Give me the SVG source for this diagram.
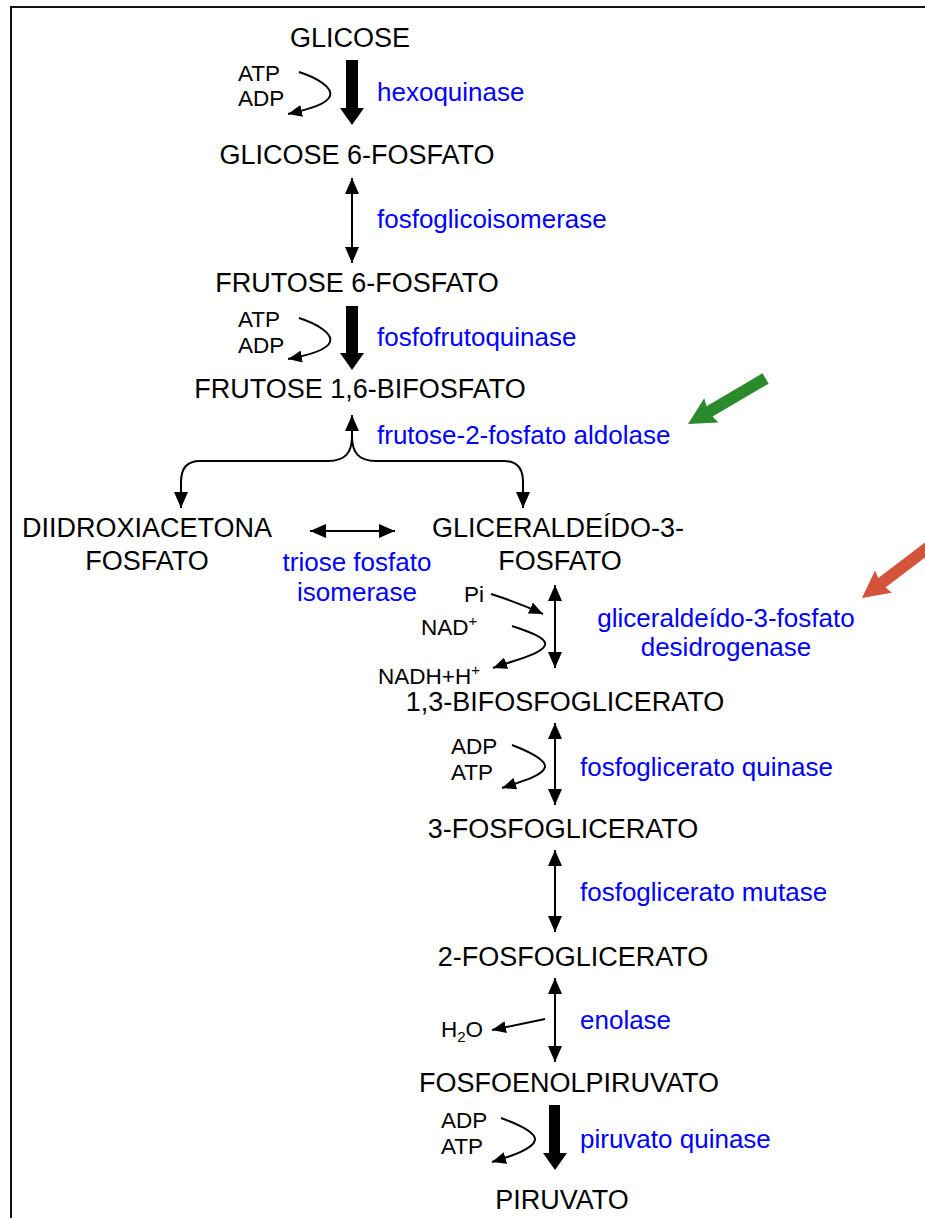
<svg xmlns="http://www.w3.org/2000/svg" width="925" height="1218" viewBox="0 0 925 1218">
<style>
text{font-family:"Liberation Sans",Arial,sans-serif;}
.m{font-size:27px;fill:#000;text-anchor:middle;}
.e{font-size:26px;fill:#0000ff;}
.ec{font-size:26px;fill:#0000ff;text-anchor:middle;}
.s{font-size:22.5px;fill:#000;}
.ln{fill:none;stroke:#000;stroke-width:2;}
</style>
<defs>
<marker id="ah" viewBox="0 0 16 14" refX="16" refY="7" markerWidth="16" markerHeight="14" markerUnits="userSpaceOnUse" orient="auto-start-reverse"><path d="M0,0 L16,7 L0,14 z" fill="#000"/></marker>
<marker id="ahs" viewBox="0 0 14 12" refX="14" refY="6" markerWidth="14" markerHeight="12" markerUnits="userSpaceOnUse" orient="auto"><path d="M0,0 L14,6 L0,12 z" fill="#000"/></marker>
</defs>
<rect x="11" y="7" width="1000" height="1300" fill="none" stroke="#111" stroke-width="2"/>

<g id="nodes">
<g id="n-glicose"><text class="m" x="350" y="47">GLICOSE</text></g>
<g id="n-g6p"><text class="m" x="357" y="164">GLICOSE 6-FOSFATO</text></g>
<g id="n-f6p"><text class="m" x="357" y="292">FRUTOSE 6-FOSFATO</text></g>
<g id="n-f16bp"><text class="m" x="360" y="398">FRUTOSE 1,6-BIFOSFATO</text></g>
<g id="n-dhap"><text class="m" x="147" y="537">DIIDROXIACETONA</text><text class="m" x="147" y="570">FOSFATO</text></g>
<g id="n-g3p"><text class="m" x="558" y="537">GLICERALDEÍDO-3-</text><text class="m" x="560" y="570">FOSFATO</text></g>
<g id="n-13bpg"><text class="m" x="565" y="711">1,3-BIFOSFOGLICERATO</text></g>
<g id="n-3pg"><text class="m" x="563" y="838">3-FOSFOGLICERATO</text></g>
<g id="n-2pg"><text class="m" x="573" y="966">2-FOSFOGLICERATO</text></g>
<g id="n-pep"><text class="m" x="569" y="1092">FOSFOENOLPIRUVATO</text></g>
<g id="n-pir"><text class="m" x="562" y="1209">PIRUVATO</text></g>
</g>

<g id="enzymes">
<text class="e" x="377" y="101">hexoquinase</text>
<text class="e" x="377" y="228">fosfoglicoisomerase</text>
<text class="e" x="377" y="346">fosfofrutoquinase</text>
<text class="e" x="377" y="444">frutose-2-fosfato aldolase</text>
<text class="ec" x="357" y="571">triose fosfato</text>
<text class="ec" x="357" y="601">isomerase</text>
<text class="ec" x="726" y="627">gliceraldeído-3-fosfato</text>
<text class="ec" x="726" y="656">desidrogenase</text>
<text class="e" x="580" y="776">fosfoglicerato quinase</text>
<text class="e" x="580" y="901">fosfoglicerato mutase</text>
<text class="e" x="580" y="1029">enolase</text>
<text class="e" x="580" y="1148">piruvato quinase</text>
</g>

<g id="cofactors">
<text class="s" x="238" y="81">ATP</text>
<text class="s" x="238" y="106">ADP</text>
<text class="s" x="238" y="327">ATP</text>
<text class="s" x="238" y="353">ADP</text>
<text class="s" x="464" y="602">Pi</text>
<text class="s" x="421" y="635">NAD<tspan font-size="15" dy="-9">+</tspan></text>
<text class="s" x="378" y="684">NADH+H<tspan font-size="15" dy="-9">+</tspan></text>
<text class="s" x="451" y="754">ADP</text>
<text class="s" x="451" y="780">ATP</text>
<text class="s" x="441" y="1037">H<tspan font-size="15" dy="5">2</tspan><tspan dy="-5">O</tspan></text>
<text class="s" x="441" y="1128">ADP</text>
<text class="s" x="441" y="1154">ATP</text>
</g>

<g id="connectors">
<polygon points="346,60 358,60 358,108 364,108 352,125 340,108 346,108" fill="#000"/>
<path class="ln" d="M299,72 C318,78 333,88 330,96 C327,104 310,109 288,114" marker-end="url(#ahs)"/>
<line class="ln" x1="352" y1="178" x2="352" y2="263" marker-start="url(#ah)" marker-end="url(#ah)"/>
<polygon points="346,306 358,306 358,353 364,353 352,370 340,353 346,353" fill="#000"/>
<path class="ln" d="M299,318 C318,324 333,334 330,342 C327,350 310,355 288,359" marker-end="url(#ahs)"/>
<path class="ln" d="M352,415 L352,436 C352,453 345,461 328,461 L200,461 C188,461 181,468 181,482 L181,508" marker-start="url(#ah)" marker-end="url(#ah)"/>
<path class="ln" d="M352,436 C352,453 359,461 376,461 L504,461 C516,461 523,468 523,482 L523,508" marker-end="url(#ah)"/>
<line class="ln" x1="310" y1="531" x2="395" y2="531" marker-start="url(#ah)" marker-end="url(#ah)"/>
<line class="ln" x1="555" y1="585" x2="555" y2="668" marker-start="url(#ah)" marker-end="url(#ah)"/>
<path class="ln" d="M491,594 C510,600 528,607 543,614" marker-end="url(#ahs)"/>
<path class="ln" d="M512,626 C530,632 547,638 545,645 C542,654 515,660 493,668" marker-end="url(#ahs)"/>
<line class="ln" x1="555" y1="723" x2="555" y2="805" marker-start="url(#ah)" marker-end="url(#ah)"/>
<path class="ln" d="M512,745 C530,752 546,760 545,767 C543,776 520,782 502,788" marker-end="url(#ahs)"/>
<line class="ln" x1="555" y1="850" x2="555" y2="932" marker-start="url(#ah)" marker-end="url(#ah)"/>
<line class="ln" x1="555" y1="978" x2="555" y2="1062" marker-start="url(#ah)" marker-end="url(#ah)"/>
<line class="ln" x1="545" y1="1019" x2="492" y2="1030" marker-end="url(#ahs)"/>
<polygon points="549,1105 560,1105 560,1153 567,1153 555,1170 543,1153 549,1153" fill="#000"/>
<path class="ln" d="M501,1118 C520,1125 536,1133 535,1140 C533,1149 512,1156 492,1162" marker-end="url(#ahs)"/>
</g>

<g id="highlights">
<polygon transform="translate(688,424) rotate(149.6)" points="0,0 -27,-14 -25,-6 -90,-6 -90,6 -25,6 -27,14" fill="#2b8a2b"/>
<polygon transform="translate(862,598) rotate(142.7)" points="0,0 -27,-14 -25,-6 -110,-6 -110,6 -25,6 -27,14" fill="#d4533b"/>
</g>
</svg>
